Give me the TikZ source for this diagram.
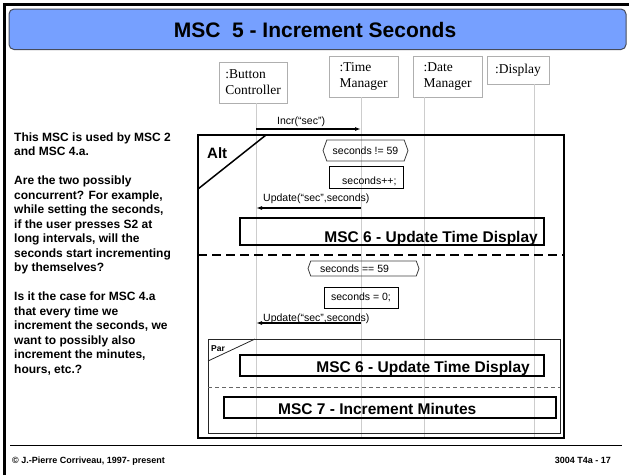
\documentclass[tikz,border=0pt]{standalone}
\usepackage{fontspec}
\setmainfont{Liberation Sans}
\newfontfamily\instfont{Liberation Serif}
\usetikzlibrary{arrows.meta,shapes.symbols}

\definecolor{titleblue}{RGB}{118,160,255}
\definecolor{titleedge}{RGB}{70,75,90}
\definecolor{lifegray}{RGB}{205,205,205}
\definecolor{boxgray}{RGB}{175,175,175}

\tikzset{
  instbox/.style={draw=boxgray, line width=0.8pt, align=left, inner sep=0pt,
    font=\instfont\fontsize{13.5}{16}\selectfont},
  lifeline/.style={draw=lifegray, line width=0.8pt},
  msg/.style={line width=1.2pt, -{Latex[length=6pt,width=4pt]}},
  msglabel/.style={font=\fontsize{10.5}{12}\selectfont, inner sep=0pt},
  condbox/.style={draw=black!75, line width=0.8pt, shape=signal,
    signal to=west and east, signal pointer angle=140, inner sep=1pt,
    font=\fontsize{10.5}{12}\selectfont},
  actbox/.style={draw=black, line width=0.8pt, inner sep=0pt,
    font=\fontsize{10.5}{12}\selectfont},
  refbox/.style={draw=black, line width=2pt, inner sep=0pt},
  reftext/.style={font=\bfseries\fontsize{15.5}{18}\selectfont, inner sep=0pt},
}

\begin{document}
\begin{tikzpicture}[x=1pt,y=-1pt]
  \useasboundingbox (0,0) rectangle (629,475);

  % Draw slide border and title bar
  \draw[line width=3pt] (4,475) -- (4,4) -- (629,4);
  \draw[fill=titleblue, draw=titleedge, line width=1pt, rounded corners=5pt]
    (9,9) rectangle (626,49.5);
  \node[font=\bfseries\fontsize{21}{24}\selectfont] (title) at (315,29.5)
    {MSC\ \ 5 - Increment Seconds};

  % Notes on the left
  \node[anchor=north west, align=left, inner sep=0pt,
    font=\bfseries\fontsize{12}{14.5}\selectfont] (notes) at (14,132.3)
    {This MSC is used by MSC 2\\
     and MSC 4.a.\\[14.5pt]
     Are the two possibly\\
     concurrent? For example,\\
     while setting the seconds,\\
     if the user presses S2 at\\
     long intervals, will the\\
     seconds start incrementing\\
     by themselves?\\[14.5pt]
     Is it the case for MSC 4.a\\
     that every time we\\
     increment the seconds, we\\
     want to possibly also\\
     increment the minutes,\\
     hours, etc.?};

  % Instances
  \node[instbox, minimum width=68pt, minimum height=41pt] (bc) at (253,82.5)
    {:Button\\Controller};
  \node[instbox, minimum width=69pt, minimum height=41pt] (tm) at (363.5,76.5)
    {:Time\\Manager};
  \node[instbox, minimum width=69pt, minimum height=41pt] (dm) at (447.5,76.5)
    {:Date\\Manager};
  \node[instbox, minimum width=62pt, minimum height=28pt] (dp) at (518,70)
    {:Display};

  % Draw lifelines
  \coordinate (bcTop) at (256,103);
  \coordinate (tmTop) at (361,97);
  \coordinate (dmTop) at (424,97);
  \coordinate (dpTop) at (534,84);
  \foreach \inst in {bc,tm,dm,dp}
    \draw[lifeline] (\inst Top) -- (\inst Top |- 0,438);

  % Incr message
  \coordinate (incrA) at (256,129);
  \coordinate (incrB) at (361,129);
  \draw[msg] (incrA) -- (incrB);
  \node[msglabel, anchor=base west] (incrLbl) at (277,124) {Incr(“sec”)};

  % Draw Alt frame
  \draw[line width=2.5pt] (198,135) rectangle (564,438);
  \draw[line width=1.5pt] (198,189) -- (266,135);
  \node[font=\bfseries\fontsize{15}{18}\selectfont, anchor=base west, inner sep=0pt]
    (alt) at (207,158) {Alt};

  % First alternative
  \node[condbox, minimum width=85pt, minimum height=21pt] (cond1) at (365.5,150.5)
    {seconds != 59};
  \node[actbox, minimum width=74pt, minimum height=22pt] (act1) at (366,177) {};
  \node[msglabel, anchor=base west] (act1txt) at (342,184) {seconds++;};
  \coordinate (upd1A) at (361,208);
  \coordinate (upd1B) at (256,208);
  \draw[msg] (upd1A) -- (upd1B);
  \node[msglabel, anchor=base west] (upd1Lbl) at (263,201) {Update(“sec”,seconds)};
  \node[refbox, minimum width=304pt, minimum height=27pt] (ref1) at (391.5,231.5) {};
  \node[reftext, anchor=base east] (ref1txt) at (538,242) {MSC 6 - Update Time Display};

  % Alt separator
  \draw[line width=1.8pt, dash pattern=on 9pt off 5pt] (198,255) -- (564,255);

  % Second alternative
  \node[condbox, minimum width=111pt, minimum height=15pt] (cond2) at (363.5,268.5)
    {seconds == 59\hspace*{18pt}};
  \node[actbox, minimum width=74pt, minimum height=21pt] (act2) at (361,297.5)
    {seconds = 0;};
  \coordinate (upd2A) at (361,323);
  \coordinate (upd2B) at (256,323);
  \draw[msg] (upd2A) -- (upd2B);
  \node[msglabel, anchor=base west] (upd2Lbl) at (263,321) {Update(“sec”,seconds)};

  % Draw Par frame
  \draw[line width=0.8pt, draw=black!85] (208,339) rectangle (560,433);
  \draw[line width=0.8pt, draw=black!85] (208,361) -- (255,339);
  \node[font=\bfseries\fontsize{8.5}{10}\selectfont, anchor=base west, inner sep=0pt]
    (par) at (211,351) {Par};
  \node[refbox, minimum width=304pt, minimum height=21pt] (ref2) at (392,365.5) {};
  \node[reftext, anchor=base east] (ref2txt) at (530,372) {MSC 6 - Update Time Display};
  \draw[line width=0.8pt, draw=black!60, dash pattern=on 4pt off 3pt] (208,387) -- (560,387);
  \node[refbox, minimum width=332pt, minimum height=21pt] (ref3) at (390,407.5) {};
  \node[reftext, anchor=base west] (ref3txt) at (278,414) {MSC 7 - Increment Minutes};

  % Footer
  \draw[line width=1pt] (10,445.5) -- (622,445.5);
  \node[font=\bfseries\fontsize{9}{11}\selectfont, anchor=base west, inner sep=0pt]
    (copy) at (12,463) {© J.-Pierre Corriveau, 1997- present};
  \node[font=\bfseries\fontsize{9}{11}\selectfont, anchor=base east, inner sep=0pt]
    (pageno) at (611,463) {3004 T4a - 17};
\end{tikzpicture}
\end{document}
